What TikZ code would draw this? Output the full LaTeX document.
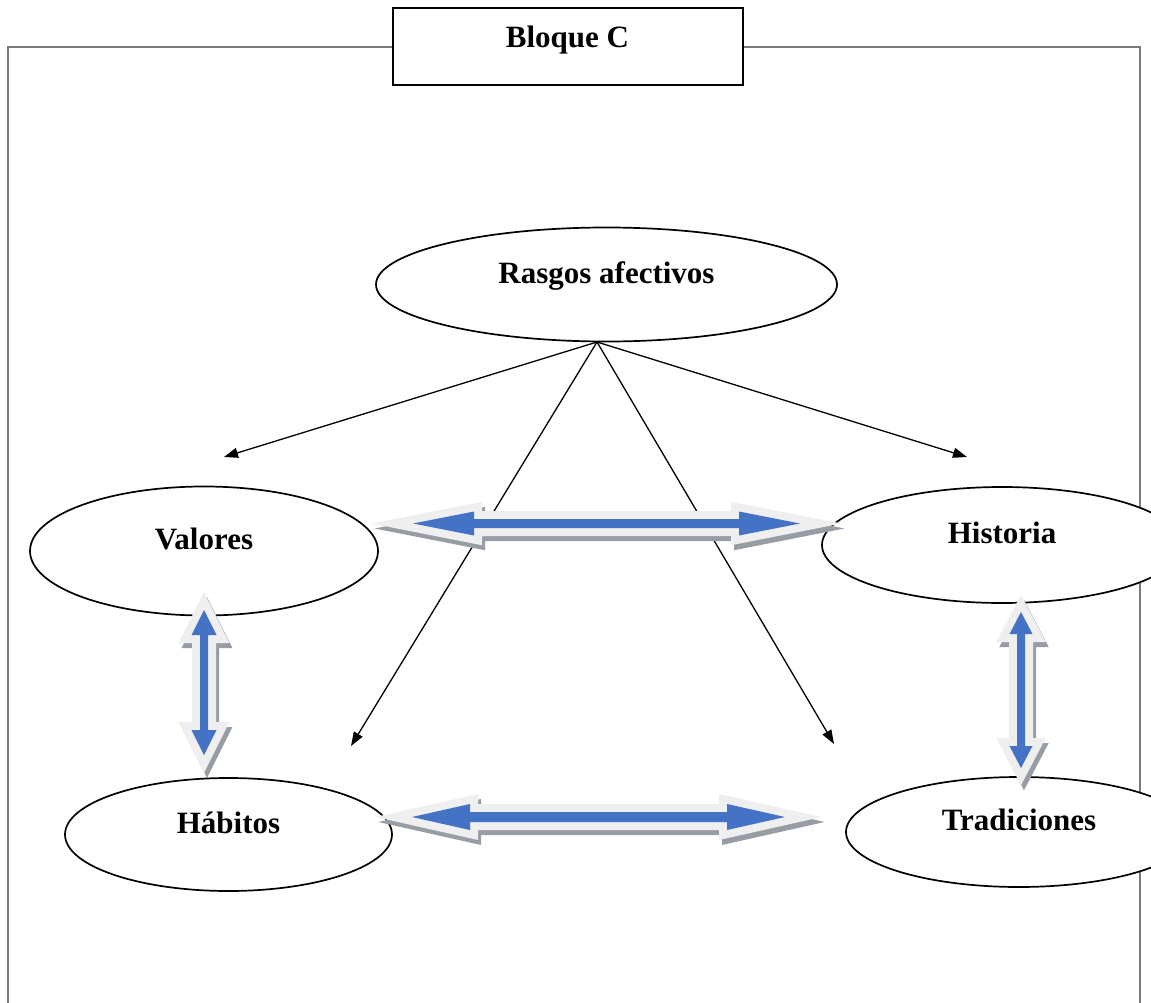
\documentclass[tikz,border=0pt]{standalone}
\usepackage{fontspec}
\setmainfont{Liberation Serif}
\usetikzlibrary{arrows.meta,shapes.geometric}

\definecolor{arrowblue}{HTML}{4472C4}
\definecolor{arrowrim}{HTML}{EFEFEF}
\definecolor{arrowshade}{HTML}{989CA4}
\definecolor{framegray}{HTML}{7A7A7A}

% horizontal block double arrow outline: #1 options, #2 y, #3 left tip, #4 right tip,
% #5 head length, #6 head half width, #7 shaft half width
\newcommand\hblockpoly[7]{%
  \path[#1] (#3,#2) -- ({#3+#5},{#2-#6}) -- ({#3+#5},{#2-#7}) -- ({#4-#5},{#2-#7})
    -- ({#4-#5},{#2-#6}) -- (#4,#2) -- ({#4-#5},{#2+#6}) -- ({#4-#5},{#2+#7})
    -- ({#3+#5},{#2+#7}) -- ({#3+#5},{#2+#6}) -- cycle;}
% vertical block double arrow outline: #1 options, #2 x, #3 top tip, #4 bottom tip,
% #5 head length, #6 head half width, #7 shaft half width
\newcommand\vblockpoly[7]{%
  \path[#1] (#2,#3) -- ({#2+#6},{#3+#5}) -- ({#2+#7},{#3+#5}) -- ({#2+#7},{#4-#5})
    -- ({#2+#6},{#4-#5}) -- (#2,#4) -- ({#2-#6},{#4-#5}) -- ({#2-#7},{#4-#5})
    -- ({#2-#7},{#3+#5}) -- ({#2-#6},{#3+#5}) -- cycle;}
% blue double arrow with light rim and drop shadow
\newcommand\hblockarrow[6]{%
  \begin{scope}[shift={(3,5)}]
    \hblockpoly{fill=arrowshade,draw=arrowshade,rimline}{#1}{#2}{#3}{#4}{#5}{#6}
  \end{scope}
  \hblockpoly{fill=arrowrim,draw=arrowrim,rimline}{#1}{#2}{#3}{#4}{#5}{#6}
  \hblockpoly{fill=arrowblue}{#1}{#2}{#3}{#4}{#5}{#6}}
\newcommand\vblockarrow[6]{%
  \begin{scope}[shift={(3,5)}]
    \vblockpoly{fill=arrowshade,draw=arrowshade,rimline}{#1}{#2}{#3}{#4}{#5}{#6}
  \end{scope}
  \vblockpoly{fill=arrowrim,draw=arrowrim,rimline}{#1}{#2}{#3}{#4}{#5}{#6}
  \vblockpoly{fill=arrowblue}{#1}{#2}{#3}{#4}{#5}{#6}}

\tikzset{
  rimline/.style={line width=16pt, line join=miter, miter limit=12},
  oval/.style={ellipse, draw, line width=1.7pt, fill=white, inner sep=0pt,
    font=\fontsize{31}{36}\selectfont\bfseries, text height=20pt, text depth=23pt},
  titlebox/.style={rectangle, draw, line width=2pt, fill=white, inner sep=0pt,
    minimum width=350pt, minimum height=77pt,
    font=\fontsize{31}{36}\selectfont\bfseries, text height=23pt, text depth=20pt},
  link/.style={line width=1.3pt, -{Triangle[length=14pt,width=10pt]}},
}

\begin{document}
\begin{tikzpicture}[x=1pt,y=-1pt]
\useasboundingbox (0,0) rectangle (1151,1003);

% outer frame
\draw[framegray, line width=1.6pt] (8,1030) -- (8,47) -- (1140,47) -- (1140,1030);

% title
\node[titlebox] (title) at (567.5,46.5) {Bloque C};

% connectors from the top oval
\coordinate (apex) at (597,342);
\coordinate (endV) at (224,457);
\coordinate (endH) at (967,457);
\coordinate (endB) at (351,746);
\coordinate (endT) at (834,744);
\draw[link] (apex) -- (endV);
\draw[link] (apex) -- (endH);
\draw[link] (apex) -- (endB);
\draw[link] (apex) -- (endT);

% ovals
\node[oval, minimum width=461pt, minimum height=114pt] (rasgos) at (606.5,284.5) {Rasgos afectivos};
\node[oval, minimum width=348pt, minimum height=129pt] (valores) at (204,551) {Valores};
\node[oval, minimum width=360pt, minimum height=116pt] (historia) at (1002,545) {Historia};
\node[oval, minimum width=327pt, minimum height=113pt] (habitos) at (228.5,834.5) {Hábitos};
\node[oval, minimum width=346pt, minimum height=110pt] (tradiciones) at (1019,832) {Tradiciones};

% block double arrows between the ovals
\hblockarrow{523.5}{413}{800}{61}{12}{4.5}
\hblockarrow{817}{412}{785}{58}{13}{5}
\vblockarrow{204}{610}{755}{25}{12.5}{4}
\vblockarrow{1021}{612}{768}{22}{11.5}{4}
\end{tikzpicture}
\end{document}
